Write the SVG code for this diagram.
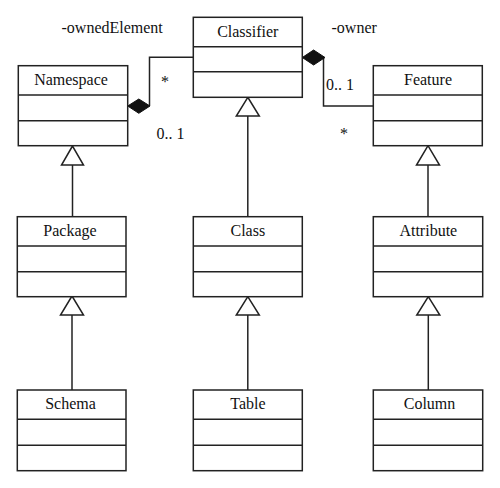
<svg xmlns="http://www.w3.org/2000/svg" width="500" height="488" viewBox="0 0 500 488">
<style>
.box{fill:#fff;stroke:#222;stroke-width:1.5}
.ln{fill:none;stroke:#222;stroke-width:1.5}
.tri{fill:#fff;stroke:#222;stroke-width:1.5;stroke-linejoin:miter}
.dia{fill:#111;stroke:#111;stroke-width:1}
text{font-family:"Liberation Serif","DejaVu Serif",serif;font-size:16px;fill:#111}
.t{text-anchor:middle}
</style>
<rect width="500" height="488" fill="#fff"/>
<g id="connectors">
  <polyline class="ln" points="149.5,106 149.5,57.3 193.3,57.3"/>
  <polygon class="dia" points="127.7,106 138.8,99 150,106 138.8,113.3"/>
  <polyline class="ln" points="323.5,57.5 323.5,106 373.3,106"/>
  <polygon class="dia" points="302.3,57.5 313.6,50 325,57.5 313.6,65"/>
  <line class="ln" x1="72.5" y1="165" x2="72.5" y2="216.7"/>
  <polygon class="tri" points="72.5,146 61.5,165 83.5,165"/>
  <line class="ln" x1="72" y1="315" x2="72" y2="390"/>
  <polygon class="tri" points="72,296 60.5,315 83.5,315"/>
  <line class="ln" x1="247.8" y1="116" x2="247.8" y2="216.7"/>
  <polygon class="tri" points="247.8,97.3 236.3,116 259.3,116"/>
  <line class="ln" x1="247.8" y1="315" x2="247.8" y2="390"/>
  <polygon class="tri" points="247.8,296.7 236.3,315 259.3,315"/>
  <line class="ln" x1="428" y1="165" x2="428" y2="216.7"/>
  <polygon class="tri" points="428,145.7 416.5,165 439.5,165"/>
  <line class="ln" x1="428.3" y1="315" x2="428.3" y2="390"/>
  <polygon class="tri" points="428.3,296.7 416.8,315 439.8,315"/>
  <text x="61.5" y="33">-ownedElement</text>
  <text x="161" y="87">*</text>
  <text x="156.5" y="139">0.. 1</text>
  <text x="331.5" y="33">-owner</text>
  <text x="326" y="90">0.. 1</text>
  <text x="340" y="139">*</text>
</g>
<g id="classifier">
  <rect class="box" x="193.3" y="17.3" width="109" height="80"/>
  <line class="ln" x1="193.3" y1="46.7" x2="302.3" y2="46.7"/>
  <line class="ln" x1="193.3" y1="71.7" x2="302.3" y2="71.7"/>
  <text class="t" x="247.8" y="37">Classifier</text>
</g>
<g id="namespace">
  <rect class="box" x="18.3" y="65.7" width="109.4" height="80"/>
  <line class="ln" x1="18.3" y1="95" x2="127.7" y2="95"/>
  <line class="ln" x1="18.3" y1="120.7" x2="127.7" y2="120.7"/>
  <text class="t" x="71" y="85">Namespace</text>
</g>
<g id="feature">
  <rect class="box" x="373.3" y="65.7" width="109" height="80"/>
  <line class="ln" x1="373.3" y1="95" x2="482.3" y2="95"/>
  <line class="ln" x1="373.3" y1="120.7" x2="482.3" y2="120.7"/>
  <text class="t" x="428" y="85">Feature</text>
</g>
<g id="package">
  <rect class="box" x="17.3" y="216.7" width="108.7" height="80"/>
  <line class="ln" x1="17.3" y1="246" x2="126" y2="246"/>
  <line class="ln" x1="17.3" y1="271.7" x2="126" y2="271.7"/>
  <text class="t" x="70" y="236">Package</text>
</g>
<g id="class">
  <rect class="box" x="193.3" y="216.7" width="109" height="80"/>
  <line class="ln" x1="193.3" y1="246" x2="302.3" y2="246"/>
  <line class="ln" x1="193.3" y1="271.7" x2="302.3" y2="271.7"/>
  <text class="t" x="247.8" y="236">Class</text>
</g>
<g id="attribute">
  <rect class="box" x="373.3" y="216.7" width="109.4" height="80"/>
  <line class="ln" x1="373.3" y1="246" x2="482.7" y2="246"/>
  <line class="ln" x1="373.3" y1="271.7" x2="482.7" y2="271.7"/>
  <text class="t" x="428.3" y="236">Attribute</text>
</g>
<g id="schema">
  <rect class="box" x="17.3" y="390" width="108.7" height="80.7"/>
  <line class="ln" x1="17.3" y1="419.3" x2="126" y2="419.3"/>
  <line class="ln" x1="17.3" y1="445.3" x2="126" y2="445.3"/>
  <text class="t" x="70.5" y="409">Schema</text>
</g>
<g id="table">
  <rect class="box" x="193.3" y="390" width="109" height="80.7"/>
  <line class="ln" x1="193.3" y1="419.3" x2="302.3" y2="419.3"/>
  <line class="ln" x1="193.3" y1="445.3" x2="302.3" y2="445.3"/>
  <text class="t" x="248" y="409">Table</text>
</g>
<g id="column">
  <rect class="box" x="373.3" y="390" width="109.4" height="80.7"/>
  <line class="ln" x1="373.3" y1="419.3" x2="482.7" y2="419.3"/>
  <line class="ln" x1="373.3" y1="445.3" x2="482.7" y2="445.3"/>
  <text class="t" x="429.5" y="409">Column</text>
</g>
</svg>
